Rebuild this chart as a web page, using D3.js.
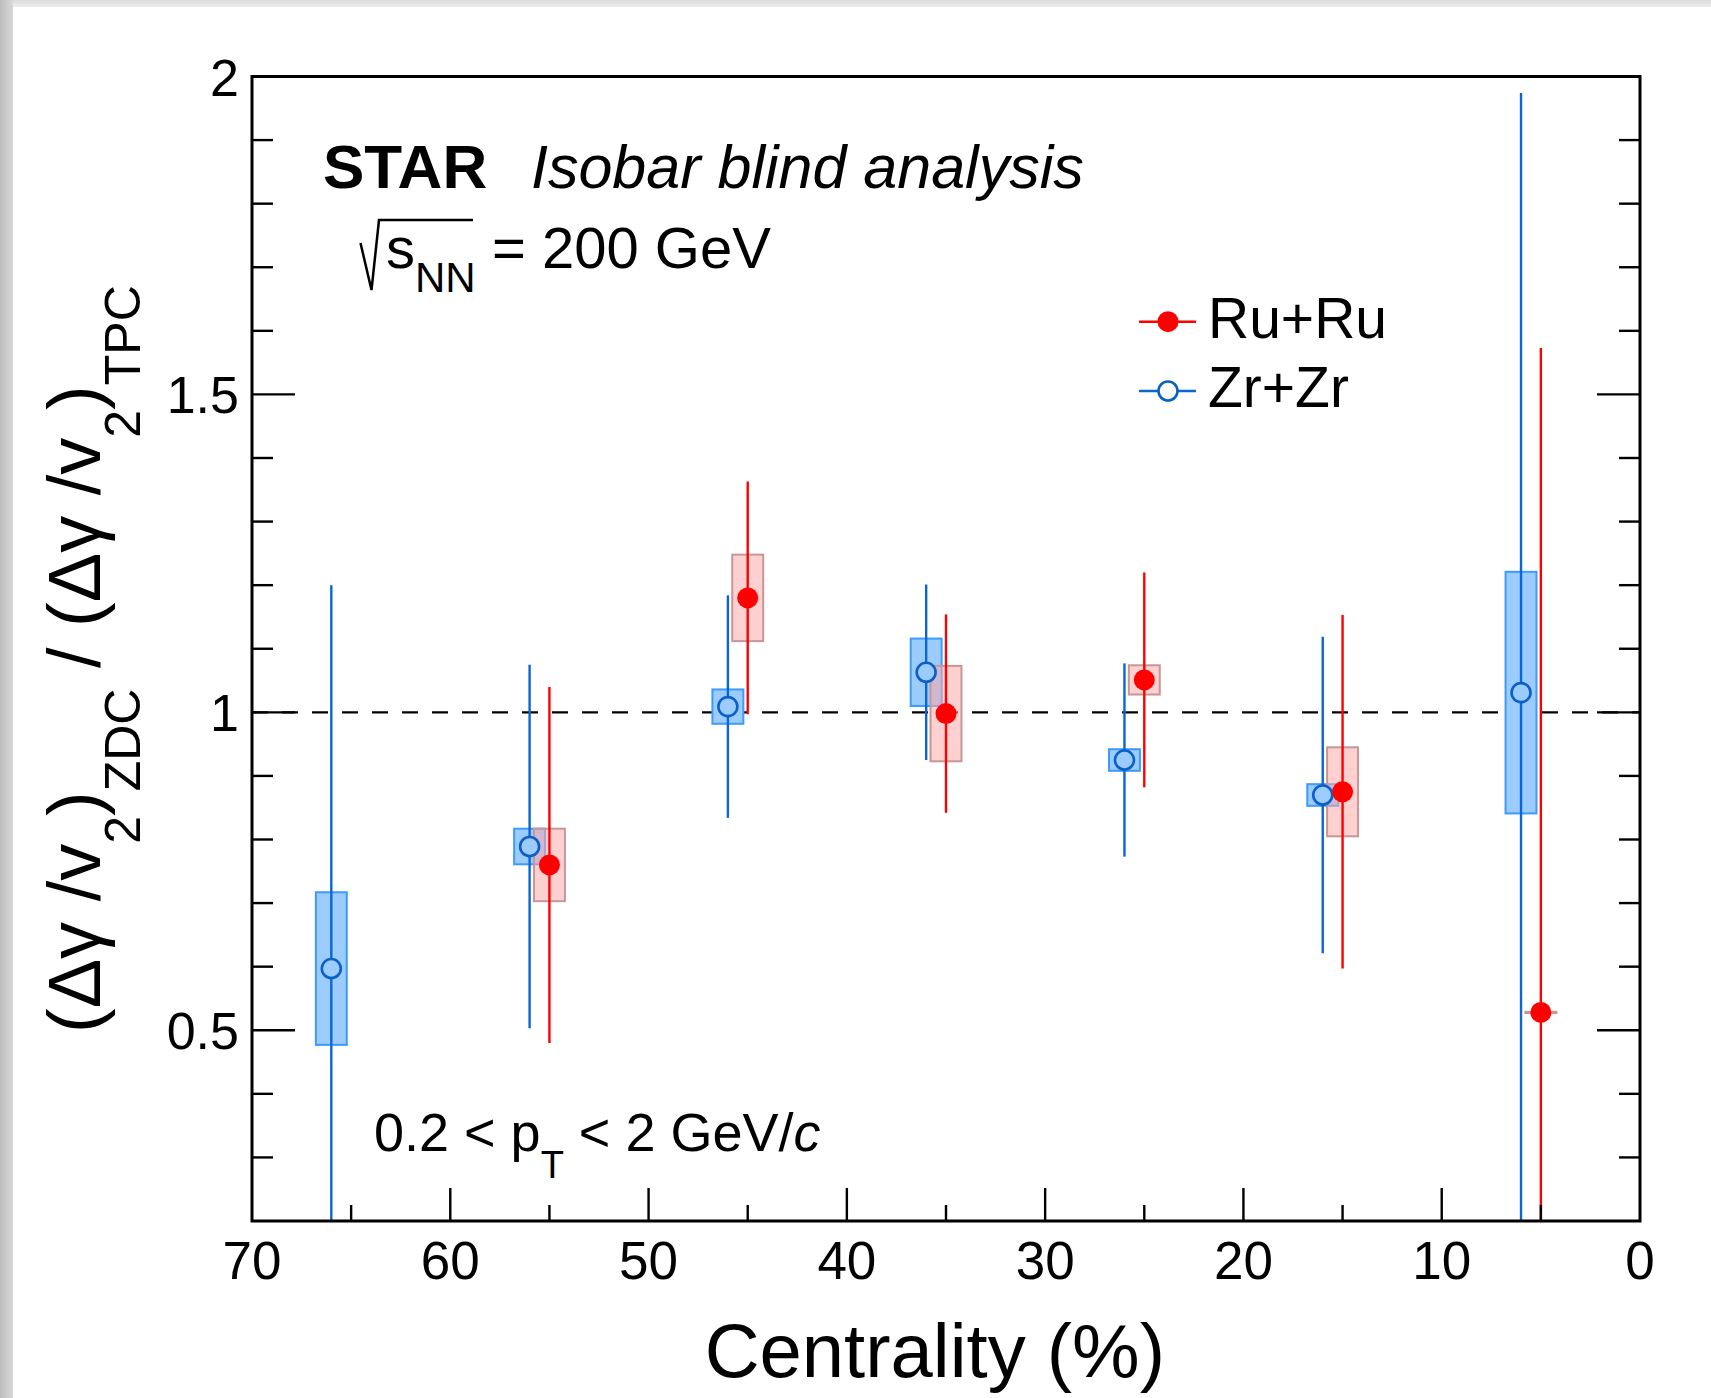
<!DOCTYPE html>
<html>
<head>
<meta charset="utf-8">
<script src="https://cdn.jsdelivr.net/npm/d3@7"></script>
<style>
  body { margin: 0; background: #fff; }
  svg { display: block; font-family: "Liberation Sans", Arial, Helvetica, sans-serif; }
</style>
</head>
<body>
<div id="main"></div>
<script>
// centrality bins (%) and ratios
var centrality_ru = [55, 45, 35, 25, 15, 5];
var ratio_ru = [0.760, 1.180, 0.998, 1.051, 0.875, 0.528];
var stat_ru = [0.280, 0.183, 0.156, 0.169, 0.278, 1.045];
var sys_ru = [0.057, 0.068, 0.075, 0.023, 0.070, 0.001];

var centrality_zr = [66, 56, 46, 36, 26, 16, 6];
var ratio_zr = [0.597, 0.789, 1.009, 1.063, 0.925, 0.870, 1.031];
var stat_zr = [0.603, 0.286, 0.175, 0.138, 0.152, 0.249, 0.943];
var sys_zr = [0.120, 0.028, 0.027, 0.053, 0.017, 0.017, 0.190];

var x_ticks = [70, 60, 50, 40, 30, 20, 10, 0];
var y_ticks = [0.5, 1, 1.5, 2];

var W = 1711, H = 1398;
// note: "top" is taken by window.top, so use pL/pR/pT/pB
var pL = 252, pR = 1640, pT = 76.5, pB = 1221;

var svg = d3.select('#main').append('svg')
    .attr('width', W).attr('height', H);

// the grey frame seen at the top / left of the original screenshot
var defs = svg.append('defs');
var gl = defs.append('linearGradient').attr('id', 'shadeL');
gl.append('stop').attr('offset', '0').attr('stop-color', '#bdbdbd');
gl.append('stop').attr('offset', '1').attr('stop-color', '#d9d9d9');
var gt = defs.append('linearGradient').attr('id', 'shadeT')
    .attr('x1', 0).attr('y1', 0).attr('x2', 0).attr('y2', 1);
gt.append('stop').attr('offset', '0').attr('stop-color', '#dcdcdc');
gt.append('stop').attr('offset', '1').attr('stop-color', '#ececec');
svg.append('rect').attr('width', W).attr('height', 7).attr('fill', 'url(#shadeT)');
svg.append('rect').attr('width', 13).attr('height', H).attr('fill', 'url(#shadeL)');

defs.append('clipPath').attr('id', 'plotclip')
  .append('rect').attr('x', pL).attr('y', pT)
    .attr('width', pR - pL).attr('height', pB - pT);

var x = d3.scaleLinear().domain([70, 0]).range([pL, pR]);
var y = d3.scaleLinear().domain([0.2, 2]).range([pB, pT]);

var ru = centrality_ru.map(function(c, i) {
  return { c: c, v: ratio_ru[i], stat: stat_ru[i], sys: sys_ru[i] };
});
var zr = centrality_zr.map(function(c, i) {
  return { c: c, v: ratio_zr[i], stat: stat_zr[i], sys: sys_zr[i] };
});

var plot = svg.append('g').attr('clip-path', 'url(#plotclip)');

// reference line at unity
plot.append('line')
    .attr('x1', pL).attr('x2', pR)
    .attr('y1', y(1)).attr('y2', y(1))
    .attr('stroke', '#000').attr('stroke-width', 2.4)
    .attr('stroke-dasharray', '16,14');

var halfw = 0.78;

function drawSys(data, opt) {
  plot.append('g').selectAll('rect').data(data)
    .enter().append('rect')
      .attr('x', function(d) { return x(d.c + halfw); })
      .attr('width', function(d) { return x(d.c - halfw) - x(d.c + halfw); })
      .attr('y', function(d) { return y(d.v + d.sys); })
      .attr('height', function(d) { return Math.max(0.5, y(d.v - d.sys) - y(d.v + d.sys)); })
      .attr('fill', opt.boxFill).attr('stroke', opt.boxStroke)
      .attr('stroke-width', 2);
}

function drawPoints(data, opt) {
  plot.append('g').selectAll('line').data(data)
    .enter().append('line')
      .attr('x1', function(d) { return x(d.c); })
      .attr('x2', function(d) { return x(d.c); })
      .attr('y1', function(d) { return y(d.v + d.stat); })
      .attr('y2', function(d) { return y(d.v - d.stat); })
      .attr('stroke', opt.line).attr('stroke-width', 2.4);

  plot.append('g').selectAll('circle').data(data)
    .enter().append('circle')
      .attr('cx', function(d) { return x(d.c); })
      .attr('cy', function(d) { return y(d.v); })
      .attr('r', opt.r)
      .attr('fill', opt.markFill)
      .attr('stroke', opt.markStroke)
      .attr('stroke-width', opt.markWidth);
}

var zrStyle = { boxFill: '#9ccbfd', boxStroke: '#3c9bfb', line: '#0a66d2',
  markFill: '#9ccbfd', markStroke: '#0a60c8', markWidth: 2.6, r: 9.5 };
var ruStyle = { boxFill: 'rgba(255,170,170,0.55)', boxStroke: '#c89696', line: '#ff0000',
  markFill: '#ff0000', markStroke: 'none', markWidth: 0, r: 10.5 };

drawSys(zr, zrStyle);
drawSys(ru, ruStyle);
drawPoints(zr, zrStyle);
drawPoints(ru, ruStyle);

// frame + ticks
var axes = svg.append('g').attr('stroke', '#000');

d3.range(3, 20).forEach(function(k) {
  var v = k / 10;
  var len = k % 5 === 0 ? 43 : 21;
  axes.append('line').attr('x1', pL).attr('x2', pL + len)
      .attr('y1', y(v)).attr('y2', y(v)).attr('stroke-width', 2.4);
  axes.append('line').attr('x1', pR).attr('x2', pR - len)
      .attr('y1', y(v)).attr('y2', y(v)).attr('stroke-width', 2.4);
});

d3.range(5, 70, 5).forEach(function(c) {
  var len = c % 10 === 0 ? 33 : 16;
  axes.append('line').attr('x1', x(c)).attr('x2', x(c))
      .attr('y1', pB).attr('y2', pB - len).attr('stroke-width', 2.4);
});

axes.append('rect')
    .attr('x', pL).attr('y', pT)
    .attr('width', pR - pL).attr('height', pB - pT)
    .attr('fill', 'none').attr('stroke-width', 3);

// tick labels
svg.append('g').selectAll('text').data(y_ticks)
  .enter().append('text')
    .attr('x', 239)
    .attr('y', function(d) { return y(d) + 19; })
    .attr('text-anchor', 'end')
    .attr('font-size', 52)
    .text(function(d) { return d; });

svg.append('g').selectAll('text').data(x_ticks)
  .enter().append('text')
    .attr('x', function(d) { return x(d); })
    .attr('y', 1279)
    .attr('text-anchor', 'middle')
    .attr('font-size', 53)
    .text(function(d) { return d; });

// axis titles
svg.append('text')
    .attr('x', 1165).attr('y', 1377)
    .attr('text-anchor', 'end')
    .attr('font-size', 76)
    .text('Centrality (%)');

var yt = svg.append('text')
    .attr('transform', 'translate(100,1033) rotate(-90)')
    .attr('font-size', 74);
var sub = 40;
yt.append('tspan').text('(\u0394\u03b3 /v');
yt.append('tspan').attr('font-size', 50).attr('dy', sub).text('2');
yt.append('tspan').attr('dy', -sub).text(')');
yt.append('tspan').attr('font-size', 50).attr('dy', sub).text('ZDC');
yt.append('tspan').attr('dy', -sub).text(' / (\u0394\u03b3 /v');
yt.append('tspan').attr('font-size', 50).attr('dy', sub).text('2');
yt.append('tspan').attr('dy', -sub).text(')');
yt.append('tspan').attr('font-size', 50).attr('dy', sub).text('TPC');

// labels inside the frame
svg.append('text').attr('x', 323).attr('y', 188)
    .attr('font-size', 62).attr('font-weight', 'bold').text('STAR');
svg.append('text').attr('x', 531).attr('y', 188)
    .attr('font-size', 61).attr('font-style', 'italic').text('Isobar blind analysis');

svg.append('path')
    .attr('d', 'M360.5,243 L371.5,290 L379,220 L473,220')
    .attr('fill', 'none').attr('stroke', '#000').attr('stroke-width', 2.5);
var sq = svg.append('text').attr('x', 386).attr('y', 268).attr('font-size', 58);
sq.append('tspan').text('s');
sq.append('tspan').attr('font-size', 42).attr('dy', 24).text('NN');
sq.append('tspan').attr('x', 492).attr('dy', -24).text('= 200 GeV');

var ptxt = svg.append('text').attr('x', 374).attr('y', 1151).attr('font-size', 54);
ptxt.append('tspan').text('0.2 < p');
ptxt.append('tspan').attr('font-size', 38).attr('dy', 27).text('T');
ptxt.append('tspan').attr('dy', -27).text(' < 2 GeV/');
ptxt.append('tspan').attr('font-style', 'italic').text('c');

// legend
var legend = [
  { name: 'Ru+Ru', y: 321.7, style: ruStyle },
  { name: 'Zr+Zr', y: 391, style: zrStyle }
];
var lg = svg.append('g').selectAll('g').data(legend).enter().append('g');
lg.append('line')
    .attr('x1', 1139).attr('x2', 1196)
    .attr('y1', function(d) { return d.y; }).attr('y2', function(d) { return d.y; })
    .attr('stroke', function(d) { return d.style.line; }).attr('stroke-width', 2.4);
lg.append('circle')
    .attr('cx', 1168).attr('cy', function(d) { return d.y; })
    .attr('r', function(d) { return d.style.r; })
    .attr('fill', function(d) { return d.name === 'Zr+Zr' ? '#fff' : d.style.markFill; })
    .attr('stroke', function(d) { return d.style.markStroke; })
    .attr('stroke-width', function(d) { return d.style.markWidth; });
lg.append('text')
    .attr('x', 1208).attr('y', function(d) { return d.y + 16; })
    .attr('font-size', 57)
    .text(function(d) { return d.name; });
</script>
</body>
</html>
